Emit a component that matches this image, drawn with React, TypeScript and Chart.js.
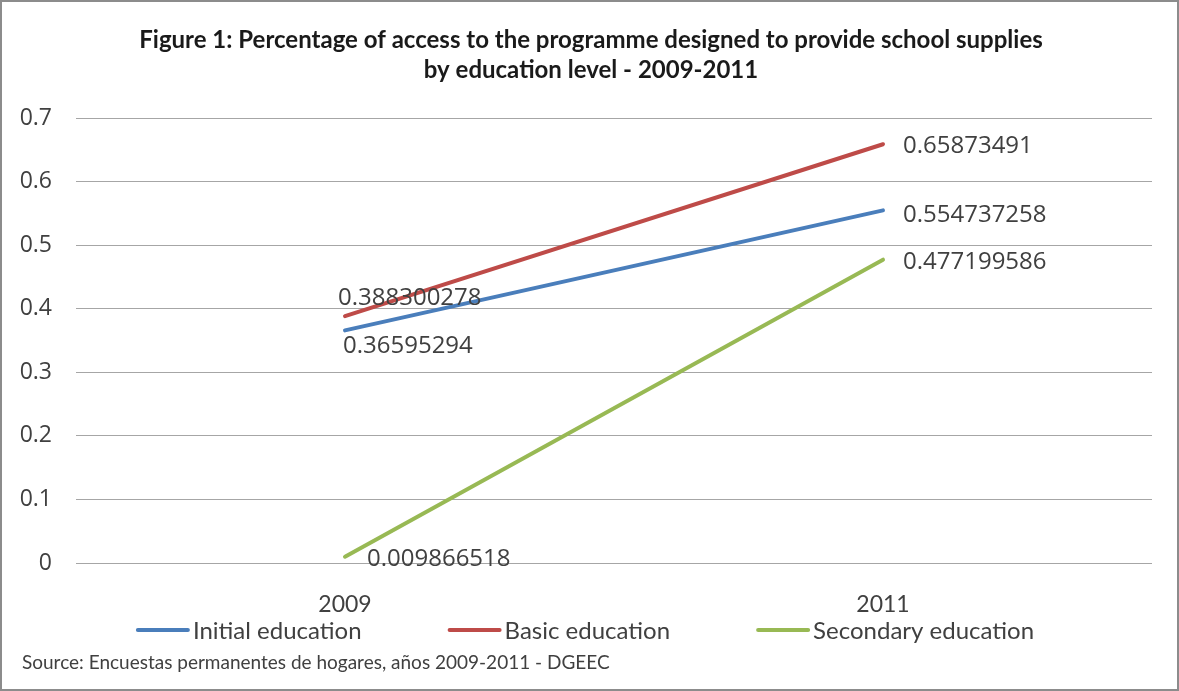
import React, { useEffect, useRef } from "react";
import { Chart, registerables } from "chart.js";

Chart.register(...registerables);

const categories = ["2009", "2011"];
const initialEducation = [0.36595294, 0.554737258];
const basicEducation = [0.388300278, 0.65873491];
const secondaryEducation = [0.009866518, 0.477199586];
const seriesLabels = ["Initial education", "Basic education", "Secondary education"];
const seriesColors = ["#4a7ebb", "#be4b48", "#98b954"];
const titleLines = [
  "Figure 1: Percentage of access to the programme designed to provide school supplies",
  "by education level - 2009-2011",
];
const sourceText = "Source: Encuestas permanentes de hogares, años 2009-2011 - DGEEC";

const W = 1179;
const H = 691;

const decorPlugin = {
  id: "decor",
  afterDatasetsDraw(chart: any) {
    const ctx = chart.ctx;
    const offs = chart.options.plugins.decor.labelOffsets;
    ctx.save();
    ctx.font = "24px 'Open Sans'";
    ctx.fillStyle = "#404040";
    ctx.textAlign = "left";
    ctx.textBaseline = "alphabetic";
    chart.data.datasets.forEach((ds: any, i: number) => {
      const meta = chart.getDatasetMeta(i);
      meta.data.forEach((pt: any, j: number) => {
        const [dx, dy] = offs[i][j];
        ctx.fillText(String(ds.data[j]), pt.x + dx, pt.y + dy + 8.5);
      });
    });
    ctx.restore();
  },
  afterDraw(chart: any) {
    const ctx = chart.ctx;
    ctx.save();
    // title
    ctx.fillStyle = "#1a1a1a";
    ctx.textAlign = "center";
    ctx.textBaseline = "alphabetic";
    ctx.font = "bold 24px Lato";
    ctx.fillText(titleLines[0], 591, 48);
    ctx.fillText(titleLines[1], 591, 78);

    // legend
    ctx.font = "24px Lato";
    const lineLen = 54;
    const gapText = 3;
    const gapItem = 86;
    const widths = chart.data.datasets.map((ds: any) => ctx.measureText(ds.label).width);
    let total = 0;
    widths.forEach((w: number, i: number) => {
      total += lineLen + gapText + w + (i < widths.length - 1 ? gapItem : 0);
    });
    let x = 585 - total / 2;
    const ly = 630;
    chart.data.datasets.forEach((ds: any, i: number) => {
      ctx.strokeStyle = ds.borderColor;
      ctx.lineWidth = 4;
      ctx.lineCap = "round";
      ctx.beginPath();
      ctx.moveTo(x + 2, ly);
      ctx.lineTo(x + lineLen - 2, ly);
      ctx.stroke();
      ctx.fillStyle = "#404040";
      ctx.textAlign = "left";
      ctx.textBaseline = "middle";
      ctx.fillText(ds.label, x + lineLen + gapText, ly + 1);
      x += lineLen + gapText + widths[i] + gapItem;
    });

    // source
    ctx.font = "19px Lato";
    ctx.fillStyle = "#404040";
    ctx.textAlign = "left";
    ctx.textBaseline = "middle";
    ctx.fillText(sourceText, 22, 663);

    // border
    ctx.strokeStyle = "#8c8c8c";
    ctx.lineWidth = 2;
    ctx.strokeRect(1, 1, W - 2, H - 2);
    ctx.restore();
  },
};

export default function App() {
  const ref = useRef<HTMLCanvasElement | null>(null);

  useEffect(() => {
    if (!ref.current) return;
    const chart = new Chart(ref.current, {
      type: "line",
      data: {
        labels: categories,
        datasets: [
          {
            label: seriesLabels[0],
            data: initialEducation,
            borderColor: seriesColors[0],
            backgroundColor: seriesColors[0],
          },
          {
            label: seriesLabels[1],
            data: basicEducation,
            borderColor: seriesColors[1],
            backgroundColor: seriesColors[1],
          },
          {
            label: seriesLabels[2],
            data: secondaryEducation,
            borderColor: seriesColors[2],
            backgroundColor: seriesColors[2],
          },
        ].map((d) => ({
          ...d,
          borderWidth: 4,
          pointRadius: 0,
          pointHoverRadius: 0,
          borderCapStyle: "round" as const,
          tension: 0,
          fill: false,
        })),
      },
      options: {
        responsive: false,
        animation: false,
        events: [],
        layout: { padding: { top: 118, right: 27, left: 0, bottom: 0 } },
        scales: {
          x: {
            type: "category",
            offset: true,
            grid: { display: false },
            border: { display: false },
            ticks: {
              padding: 20,
              color: "#404040",
              font: { family: "Lato", size: 23 },
              maxRotation: 0,
            },
            afterFit(scale: any) {
              scale.height = H - 563;
            },
          },
          y: {
            min: 0,
            max: 0.7,
            grid: { color: "#a6a6a6", lineWidth: 1, drawTicks: false },
            border: { display: false },
            ticks: {
              stepSize: 0.1,
              padding: 24,
              color: "#404040",
              font: { family: "'Open Sans'", size: 23 },
              callback: (v: any) => String(Number(Number(v).toFixed(1))),
            },
            afterFit(scale: any) {
              scale.width = 76;
            },
          },
        },
        plugins: {
          legend: { display: false },
          title: { display: false },
          tooltip: { enabled: false },
          decor: {
            labelOffsets: [
              [[-2, 14], [20, 3]],
              [[-7, -20], [20, 0]],
              [[22, 1], [20, 1]],
            ],
          },
        } as any,
      },
      plugins: [decorPlugin],
    });
    return () => chart.destroy();
  }, []);

  return (
    <div style={{ position: "fixed", top: 0, left: 0, width: W, height: H, background: "#fff" }}>
      <canvas ref={ref} width={W} height={H} style={{ display: "block" }} />
    </div>
  );
}
